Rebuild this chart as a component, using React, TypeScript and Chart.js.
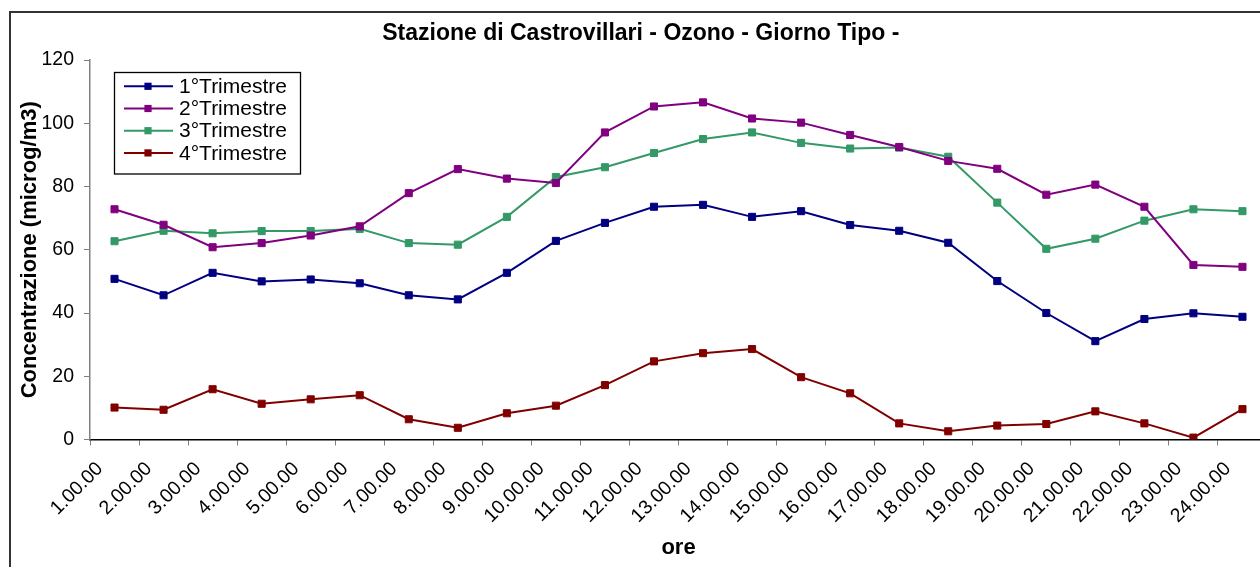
import React, { useEffect, useRef } from "react";
import { Chart, registerables } from "chart.js";

Chart.register(...registerables);

const hours = [
  "1.00.00", "2.00.00", "3.00.00", "4.00.00", "5.00.00", "6.00.00",
  "7.00.00", "8.00.00", "9.00.00", "10.00.00", "11.00.00", "12.00.00",
  "13.00.00", "14.00.00", "15.00.00", "16.00.00", "17.00.00", "18.00.00",
  "19.00.00", "20.00.00", "21.00.00", "22.00.00", "23.00.00", "24.00.00",
];

const trimestre1 = [50.8, 45.6, 52.7, 50.0, 50.6, 49.4, 45.6, 44.3, 52.7, 62.8, 68.5, 73.6, 74.2, 70.4, 72.2, 67.8, 66.0, 62.2, 50.1, 40.0, 31.1, 38.1, 39.9, 38.8];
const trimestre2 = [72.8, 67.9, 60.8, 62.1, 64.5, 67.4, 77.9, 85.5, 82.5, 81.1, 97.1, 105.3, 106.6, 101.5, 100.2, 96.3, 92.5, 88.1, 85.6, 77.4, 80.6, 73.6, 55.2, 54.6];
const trimestre3 = [62.7, 66.0, 65.2, 65.9, 65.9, 66.6, 62.1, 61.6, 70.4, 83.0, 86.1, 90.6, 95.0, 97.1, 93.8, 92.0, 92.3, 89.4, 74.9, 60.3, 63.5, 69.2, 72.8, 72.2];
const trimestre4 = [10.1, 9.4, 15.9, 11.3, 12.7, 14.0, 6.4, 3.7, 8.3, 10.7, 17.2, 24.7, 27.3, 28.6, 19.7, 14.6, 5.1, 2.6, 4.4, 4.9, 8.9, 5.1, 0.6, 9.6];

const seriesNames = ["1°Trimestre", "2°Trimestre", "3°Trimestre", "4°Trimestre"];
const seriesColors = ["#000080", "#800080", "#339966", "#800000"];
const yTicks = [0, 20, 40, 60, 80, 100, 120];

const FONT = "'Liberation Sans', Arial, sans-serif";

const boxedLegend = {
  id: "boxedLegend",
  afterDatasetsDraw(chart: any) {
    const { ctx, chartArea } = chart;
    const left = chartArea.left + 24.5;
    const top = chartArea.top + 12.5;
    const w = 186;
    const h = 101.5;
    ctx.save();
    ctx.fillStyle = "#ffffff";
    ctx.fillRect(left, top, w, h);
    ctx.strokeStyle = "#000000";
    ctx.lineWidth = 1.3;
    ctx.strokeRect(left, top, w, h);
    ctx.font = `21px ${FONT}`;
    ctx.textBaseline = "middle";
    ctx.textAlign = "left";
    chart.data.datasets.forEach((ds: any, i: number) => {
      const y = top + 13.8 + i * 22.2;
      ctx.strokeStyle = ds.borderColor;
      ctx.lineWidth = 2;
      ctx.beginPath();
      ctx.moveTo(left + 9.5, y);
      ctx.lineTo(left + 58.5, y);
      ctx.stroke();
      ctx.fillStyle = ds.borderColor;
      ctx.fillRect(left + 33.5 - 3.6, y - 3.6, 7.2, 7.2);
      ctx.fillStyle = "#000000";
      ctx.fillText(ds.label, left + 64.5, y + 1);
    });
    ctx.restore();
  },
};

export default function App() {
  const ref = useRef<HTMLCanvasElement | null>(null);

  useEffect(() => {
    if (!ref.current) return;
    const data = [trimestre1, trimestre2, trimestre3, trimestre4];
    const chart = new Chart(ref.current, {
      type: "line",
      data: {
        labels: hours,
        datasets: data.map((d, i) => ({
          label: seriesNames[i],
          data: d,
          borderColor: seriesColors[i],
          backgroundColor: seriesColors[i],
          borderWidth: 2,
          pointStyle: "rect",
          pointRadius: 5,
          pointBorderWidth: 1,
          pointBorderColor: seriesColors[i],
          pointBackgroundColor: seriesColors[i],
          tension: 0,
          fill: false,
        })),
      },
      options: {
        responsive: false,
        animation: false,
        devicePixelRatio: 1,
        layout: { padding: { left: 0, right: 2.5, top: 0, bottom: 7.5 } },
        plugins: {
          legend: { display: false },
          tooltip: { enabled: false },
          title: {
            display: true,
            text: "Stazione di Castrovillari - Ozono - Giorno Tipo -",
            color: "#000000",
            font: { family: FONT, size: 23, weight: "bold", lineHeight: 1.2 },
            padding: { top: 7, bottom: 12.4 },
          },
        },
        scales: {
          x: {
            type: "category",
            offset: true,
            afterFit: (scale: any) => {
              scale.height = 126;
            },
            grid: {
              offset: true,
              drawOnChartArea: false,
              drawTicks: true,
              tickLength: 6,
              color: "#808080",
              lineWidth: 1,
            },
            border: { display: true, color: "#000000", width: 1.5 },
            ticks: {
              autoSkip: false,
              maxRotation: 45,
              minRotation: 45,
              padding: 12,
              labelOffset: -14.6,
              color: "#000000",
              font: { family: FONT, size: 19.5 },
            },
            title: {
              display: true,
              text: "ore",
              color: "#000000",
              font: { family: FONT, size: 22, weight: "bold", lineHeight: 1.2 },
              padding: { top: 4, bottom: 4 },
            },
          },
          y: {
            min: 0,
            max: 120,
            afterFit: (scale: any) => {
              scale.width = 79;
            },
            afterBuildTicks: (scale: any) => {
              scale.ticks = yTicks.map((v) => ({ value: v }));
            },
            grid: {
              drawOnChartArea: false,
              drawTicks: true,
              tickLength: 6,
              color: "#808080",
              lineWidth: 1,
            },
            border: { display: true, color: "#808080", width: 1.5 },
            ticks: {
              padding: 10,
              color: "#000000",
              font: { family: FONT, size: 19.5 },
            },
            title: {
              display: true,
              text: "Concentrazione (microg/m3)",
              color: "#000000",
              font: { family: FONT, size: 22, weight: "bold", lineHeight: 1.2 },
              padding: { top: 6, bottom: 4 },
            },
          },
        },
      },
      plugins: [boxedLegend],
    });
    return () => chart.destroy();
  }, []);

  return (
    <div
      style={{
        position: "fixed",
        left: 0,
        top: 0,
        width: 1260,
        height: 567,
        overflow: "hidden",
        background: "#ffffff",
      }}
    >
      <div
        style={{
          position: "absolute",
          left: 9,
          top: 11,
          width: 1262,
          height: 560,
          border: "2px solid #333333",
          background: "#ffffff",
        }}
      >
        <canvas
          ref={ref}
          width={1262}
          height={560}
          style={{ display: "block", width: 1262, height: 560 }}
        />
      </div>
    </div>
  );
}
